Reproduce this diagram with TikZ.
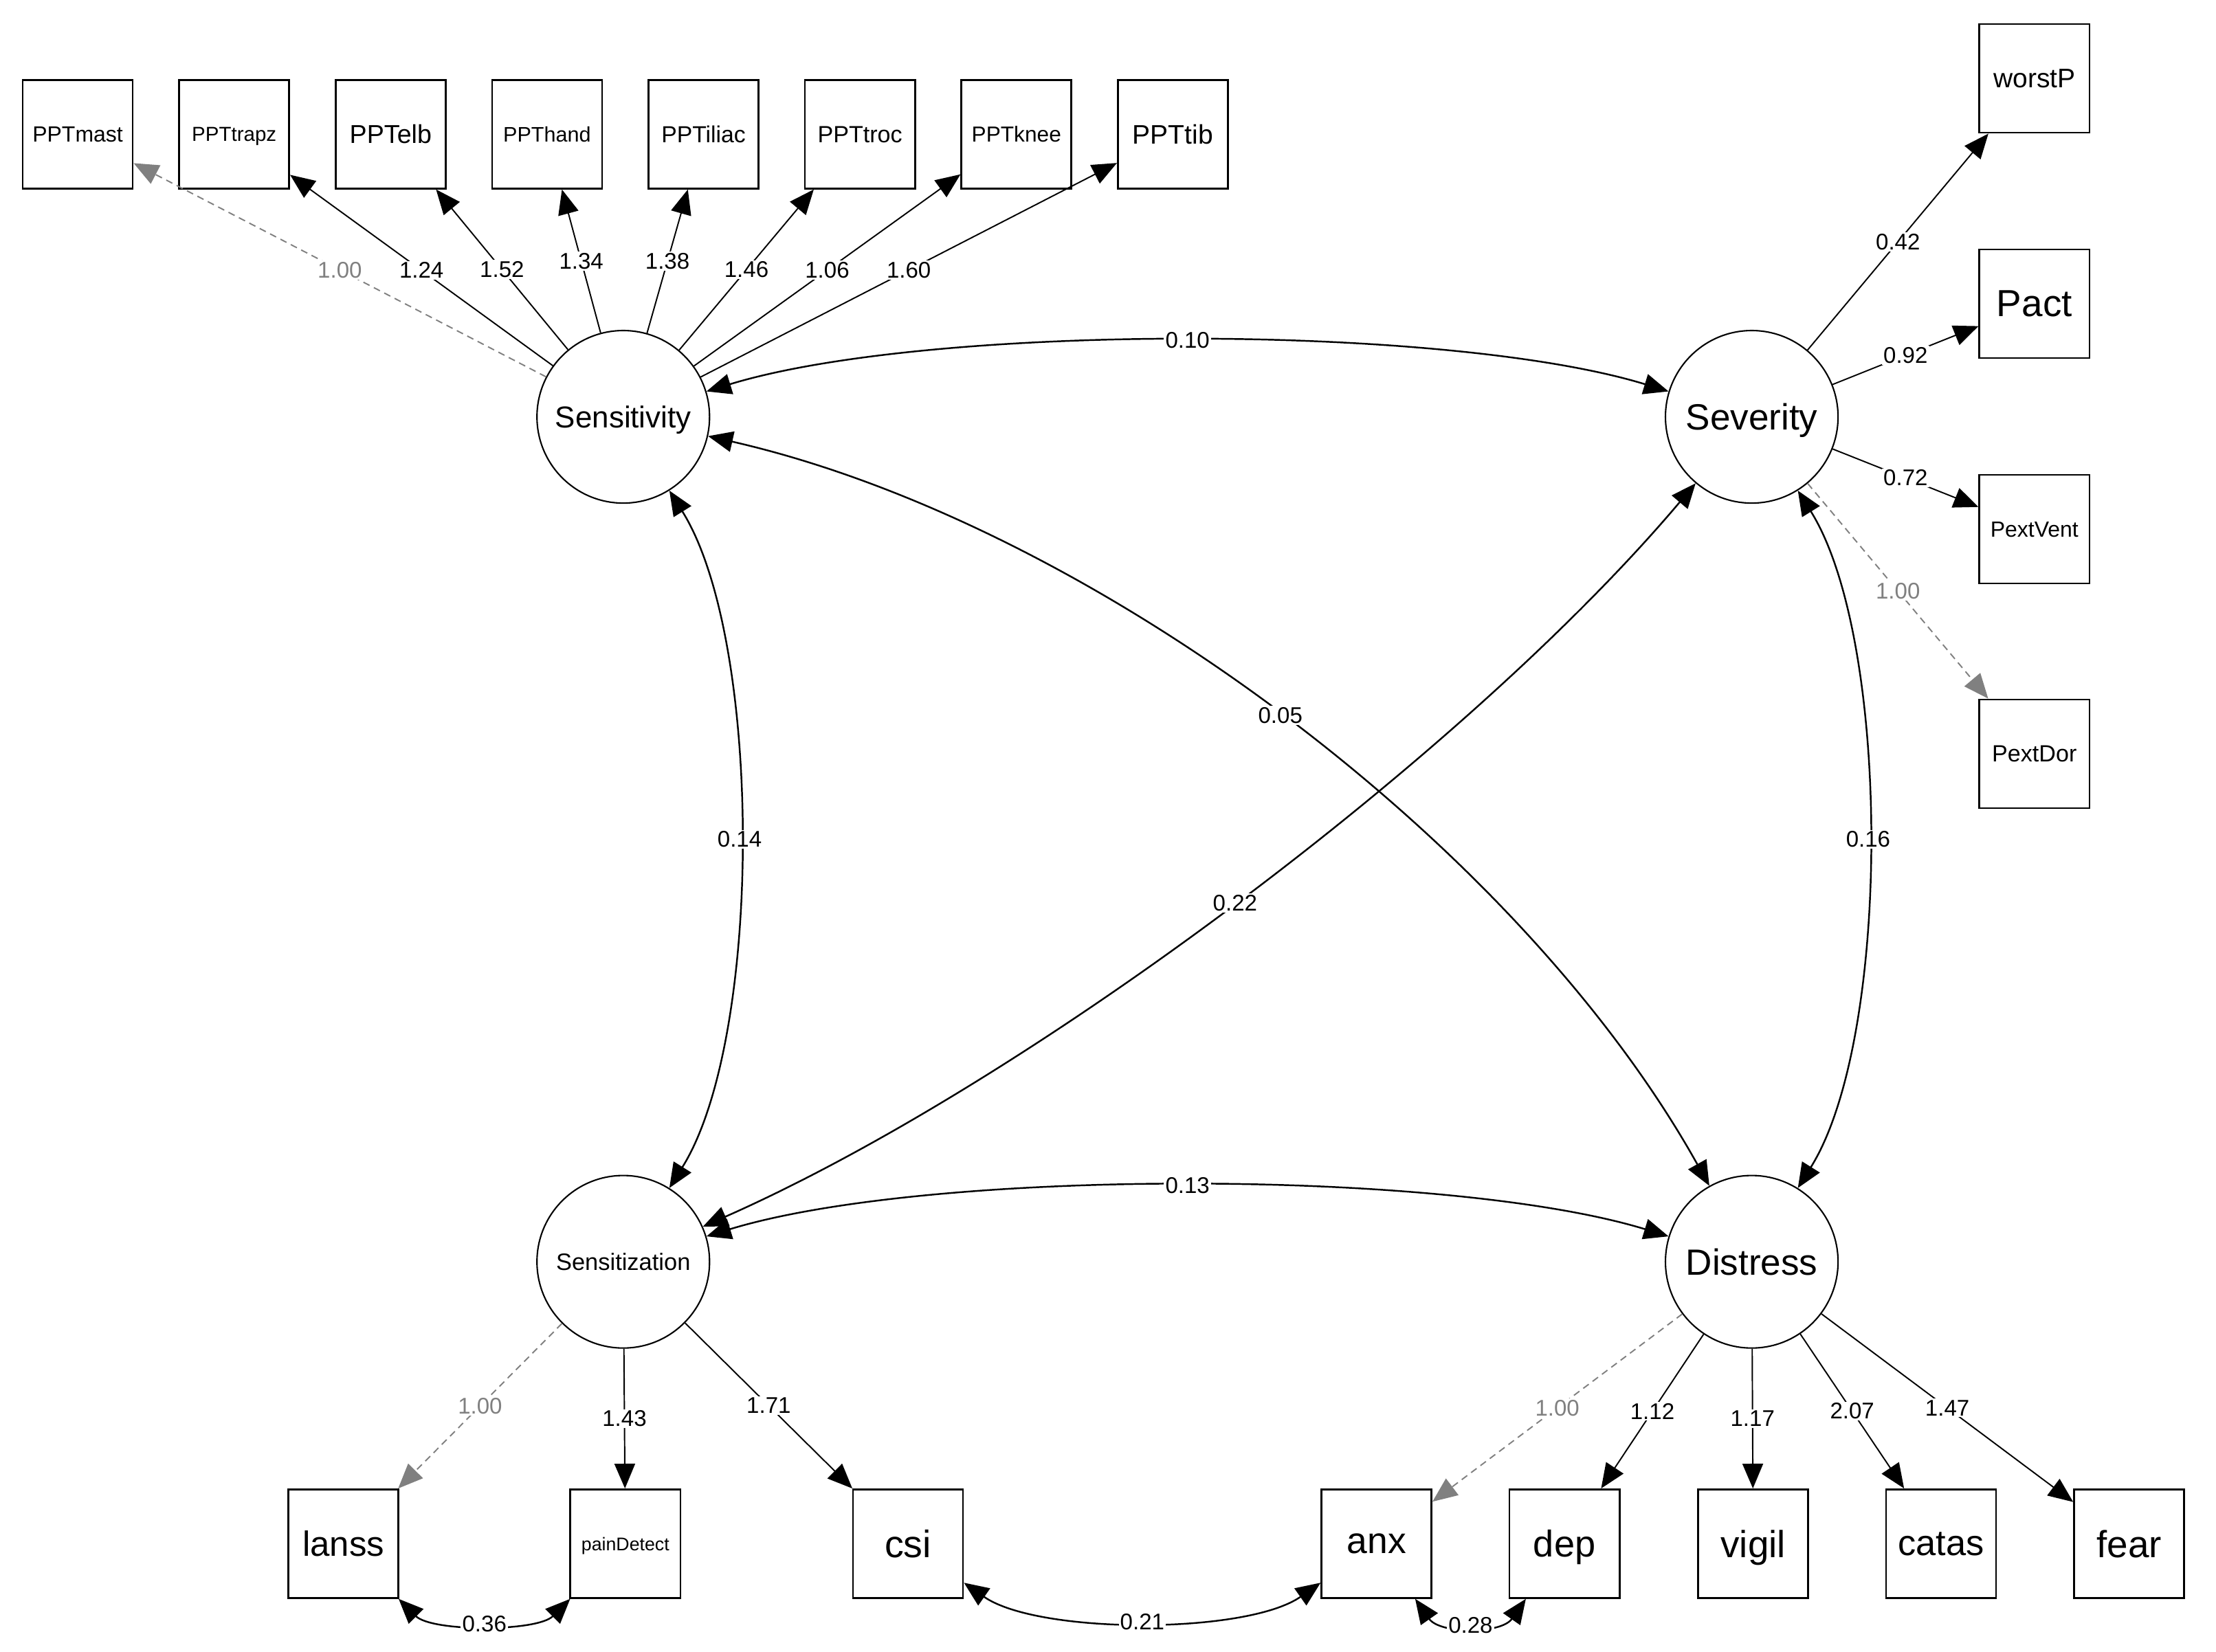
\documentclass[tikz,border=0pt]{standalone}
\usepackage{fontspec}
\setmainfont{Liberation Sans}
\usetikzlibrary{arrows.meta}
\newcommand\fsz[1]{\fontsize{#1}{#1}\selectfont}
\definecolor{fixgray}{RGB}{128,128,128}
\begin{document}
\begin{tikzpicture}[x=0.02056cm, y=-0.02056cm,
  obs/.style={draw, line width=0.75pt, minimum width=1.6cm, minimum height=1.58cm, inner sep=0pt, text depth=0pt},
  lat/.style={draw, circle, line width=0.6pt, minimum size=2.51cm, inner sep=0pt, text depth=0pt},
  ldg/.style={-{Triangle[length=3.6mm,width=3.0mm]}, line width=0.55pt},
  fixload/.style={ldg, draw=fixgray, dash pattern=on 1mm off 0.7mm},
  cov/.style={{Triangle[length=3.6mm,width=3.0mm]}-{Triangle[length=3.6mm,width=3.0mm]}, line width=0.7pt},
  lbl/.style={fill=white, inner sep=0.6pt, font=\fsz{9.4pt}},
  glbl/.style={lbl, text=fixgray},
]
\useasboundingbox (0,0) rectangle (1568,1169);

% latent variables
\node[lat, font=\fsz{12.5pt}] (Sens) at (441,295) {Sensitivity};
\node[lat, font=\fsz{15.1pt}] (Sev) at (1239.5,295) {Severity};
\node[lat, font=\fsz{9.8pt}] (Szn) at (441,893) {Sensitization};
\node[lat, font=\fsz{15.1pt}] (Dis) at (1239.5,893) {Distress};

% top indicators
\node[obs, font=\fsz{9.1pt}] (PPTmast) at (55,95) {PPTmast};
\node[obs, font=\fsz{8.4pt}] (PPTtrapz) at (165.7,95) {PPTtrapz};
\node[obs, font=\fsz{10.7pt}] (PPTelb) at (276.4,95) {PPTelb};
\node[obs, font=\fsz{8.7pt}] (PPThand) at (387.1,95) {PPThand};
\node[obs, font=\fsz{9.6pt}] (PPTiliac) at (497.8,95) {PPTiliac};
\node[obs, font=\fsz{9.7pt}] (PPTtroc) at (608.5,95) {PPTtroc};
\node[obs, font=\fsz{9.0pt}] (PPTknee) at (719.2,95) {PPTknee};
\node[obs, font=\fsz{11.1pt}] (PPTtib) at (829.9,95) {PPTtib};

% right indicators
\node[obs, font=\fsz{11.1pt}] (worstP) at (1439.5,55.5) {worstP};
\node[obs, font=\fsz{15.6pt}] (Pact) at (1439.5,215) {Pact};
\node[obs, font=\fsz{9.1pt}] (PextVent) at (1439.5,374.5) {PextVent};
\node[obs, font=\fsz{9.7pt}] (PextDor) at (1439.5,533.5) {PextDor};

% bottom indicators
\node[obs, font=\fsz{14.5pt}] (lanss) at (243,1092.5) {lanss};
\node[obs, font=\fsz{7.6pt}] (painDetect) at (442.5,1092.5) {painDetect};
\node[obs, font=\fsz{15.8pt}] (csi) at (642.5,1092.5) {csi};
\node[obs, font=\fsz{15.2pt}] (anx) at (974,1092.5) {anx};
\node[obs, font=\fsz{15.4pt}] (dep) at (1107,1092.5) {dep};
\node[obs, font=\fsz{15.6pt}] (vigil) at (1240.5,1092.5) {vigil};
\node[obs, font=\fsz{14.9pt}] (catas) at (1373.5,1092.5) {catas};
\node[obs, font=\fsz{15.6pt}] (fear) at (1506.5,1092.5) {fear};

% loadings: Sensitivity
\draw[fixload] (Sens) -- node[glbl]{1.00} (PPTmast);
\draw[ldg] (Sens) -- node[lbl]{1.24} (PPTtrapz);
\draw[ldg] (Sens) -- node[lbl]{1.52} (PPTelb);
\draw[ldg] (Sens) -- node[lbl]{1.34} (PPThand);
\draw[ldg] (Sens) -- node[lbl]{1.38} (PPTiliac);
\draw[ldg] (Sens) -- node[lbl]{1.46} (PPTtroc);
\draw[ldg] (Sens) -- node[lbl]{1.06} (PPTknee);
\draw[ldg] (Sens) -- node[lbl]{1.60} (PPTtib);

% loadings: Severity
\draw[ldg] (Sev) -- node[lbl]{0.42} (worstP);
\draw[ldg] (Sev) -- node[lbl]{0.92} (Pact);
\draw[ldg] (Sev) -- node[lbl]{0.72} (PextVent);
\draw[fixload] (Sev) -- node[glbl]{1.00} (PextDor);

% loadings: Sensitization
\draw[fixload] (Szn) -- node[glbl]{1.00} (lanss);
\draw[ldg] (Szn) -- node[lbl]{1.43} (painDetect);
\draw[ldg] (Szn) -- node[lbl]{1.71} (csi);

% loadings: Distress
\draw[fixload] (Dis) -- node[glbl]{1.00} (anx);
\draw[ldg] (Dis) -- node[lbl]{1.12} (dep);
\draw[ldg] (Dis) -- node[lbl]{1.17} (vigil);
\draw[ldg] (Dis) -- node[lbl]{2.07} (catas);
\draw[ldg] (Dis) -- node[lbl]{1.47} (fear);

% latent covariances
\draw[cov] (Sens) to[bend left=17, looseness=0.62] node[lbl]{0.10} (Sev);
\draw[cov] (Szn) to[bend left=17, looseness=0.62] node[lbl]{0.13} (Dis);
\draw[cov] (Sens) to[bend left=32, looseness=0.65] node[lbl]{0.14} (Szn);
\draw[cov] (Sev) to[bend left=32, looseness=0.65] node[lbl]{0.16} (Dis);
\draw[cov] (Sens) to[bend left=24, looseness=0.8] node[lbl]{0.05} (Dis);
\draw[cov] (Sev) to[bend left=13, looseness=0.73] node[lbl]{0.22} (Szn);

% residual covariances
\draw[cov] (lanss) to[bend right=45, looseness=0.7] node[lbl]{0.36} (painDetect);
\draw[cov] (csi) to[bend right=35, looseness=0.65] node[lbl]{0.21} (anx);
\draw[cov] (anx) to[bend right=55] node[lbl]{0.28} (dep);
\end{tikzpicture}
\end{document}
